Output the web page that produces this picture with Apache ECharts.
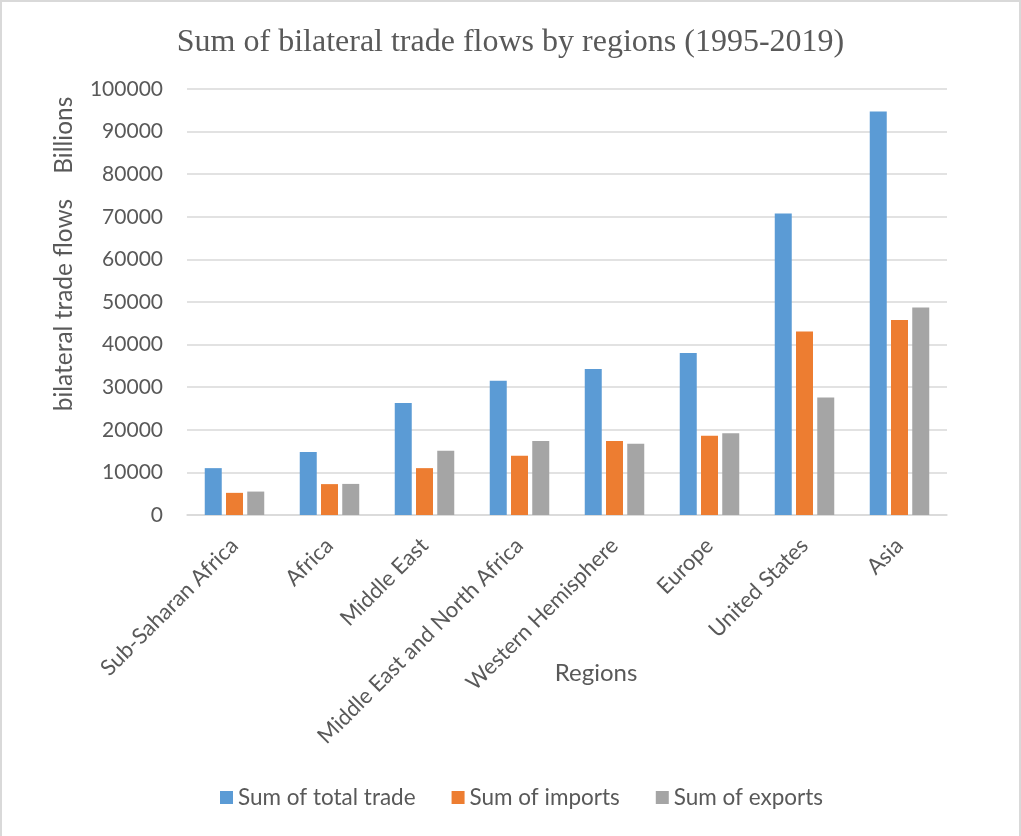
<!DOCTYPE html>
<html>
<head>
<meta charset="utf-8">
<script src="https://cdn.jsdelivr.net/npm/echarts@6/dist/echarts.min.js"></script>
<style>
  html, body { margin: 0; padding: 0; background: #fff; }
  #chart {
    width: 1021px; height: 836px; box-sizing: border-box;
    border: 2px solid #d9d9d9; border-bottom: none;
  }
</style>
</head>
<body>
<div id="chart"></div>
<script>
// Regions on the category axis
const regions = [
  'Sub-Saharan Africa', 'Africa', 'Middle East', 'Middle East and North Africa',
  'Western Hemisphere', 'Europe', 'United States', 'Asia'
];
// Bilateral trade flows, billions (1995-2019 sums)
const totalTrade = [11000, 14800, 26300, 31500, 34300, 38000, 70800, 94700];
const imports    = [5200, 7250, 11000, 13900, 17400, 18600, 43100, 45800];
const exports    = [5500, 7300, 15100, 17400, 16700, 19200, 27600, 48700];

const seriesNames = ['Sum of total trade', 'Sum of imports', 'Sum of exports'];
const seriesColors = ['#5B9BD5', '#ED7D31', '#A5A5A5'];

const textColor = '#595959';
const sans = 'Lato, "Open Sans", sans-serif';

const chart = echarts.init(document.getElementById('chart'), null, { renderer: 'canvas' });

const makeBar = (name, data, color) => ({
  name, type: 'bar', data,
  barWidth: 17, barGap: '25%',
  itemStyle: { color }
});

chart.setOption({
  animation: false,
  backgroundColor: '#fff',
  title: {
    text: 'Sum of bilateral trade flows by regions (1995-2019)',
    left: 'center', top: 20,
    textStyle: {
      fontFamily: '"Liberation Serif", "Times New Roman", serif',
      fontWeight: 'normal', fontSize: 32, color: textColor
    }
  },
  legend: {
    bottom: 22, left: 213,
    itemWidth: 13, itemHeight: 13, itemGap: 36,
    icon: 'rect',
    textStyle: { fontFamily: sans, fontSize: 22.5, color: textColor }
  },
  grid: { left: 185, right: 72, top: 87, bottom: 321, containLabel: false },
  xAxis: {
    type: 'category', data: regions,
    name: 'Regions', nameLocation: 'middle', nameGap: 146,
    nameMoveOverlap: false,
    nameTextStyle: { fontFamily: sans, fontSize: 24, color: textColor, padding: [0, 0, 0, 58] },
    axisLine: { lineStyle: { color: '#d9d9d9', width: 1.5 } },
    axisTick: { show: false },
    axisLabel: {
      rotate: 45, interval: 0, margin: 27,
      fontFamily: sans, fontSize: 22, color: textColor
    }
  },
  yAxis: {
    type: 'value', min: 0, max: 100000, interval: 10000,
    name: 'bilateral trade flows    Billions', nameLocation: 'middle', nameGap: 110,
    nameRotate: 90, nameMoveOverlap: false,
    nameTextStyle: { fontFamily: sans, fontSize: 24.5, color: textColor, padding: [0, 0, 0, 96] },
    axisLine: { show: false },
    axisTick: { show: false },
    axisLabel: {
      margin: 24, fontFamily: sans, fontSize: 21, color: textColor,
      formatter: (v) => String(v)
    },
    splitLine: { lineStyle: { color: '#d9d9d9', width: 1.5 } }
  },
  series: [
    makeBar(seriesNames[0], totalTrade, seriesColors[0]),
    makeBar(seriesNames[1], imports, seriesColors[1]),
    makeBar(seriesNames[2], exports, seriesColors[2])
  ]
});
</script>
</body>
</html>
